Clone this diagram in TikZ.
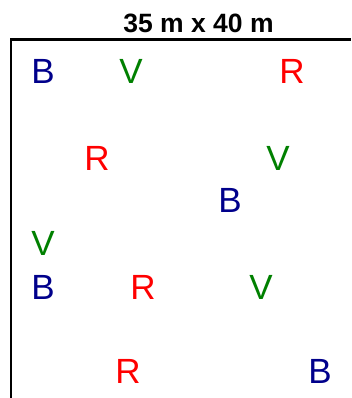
\documentclass[tikz,border=0pt]{standalone}
\usepackage{fontspec}
\setmainfont{Liberation Sans}
\usepackage{tikz}
\usetikzlibrary{positioning}
\definecolor{plotblue}{RGB}{0,0,139}
\definecolor{plotgreen}{RGB}{0,128,0}
\definecolor{plotred}{RGB}{255,0,0}
\tikzset{
  plant/.style={inner sep=0pt,font=\fontsize{35}{35}\selectfont},
  bplant/.style={plant,text=plotblue},
  vplant/.style={plant,text=plotgreen},
  rplant/.style={plant,text=plotred},
  frame/.style={line width=2.2pt,black}
}

\begin{document}
\begin{tikzpicture}[x=1pt,y=-1pt]
  \useasboundingbox (0,0) rectangle (351,398);
  % title + plot border
  \node[inner sep=0pt,font=\fontsize{26.5}{26.5}\selectfont\bfseries] (title) at (198.5,23) {35 m x 40 m};
  \coordinate (corner) at (11,39.5);
  \draw[frame] (11,398) -- (corner) -- (351,39.5);
  % row 1
  \node[bplant] (b1) at (43,71)  {B};
  \node[vplant] (v1) at (131,71) {V};
  \node[rplant] (r1) at (292,71) {R};
  % row 2
  \node[rplant] (r2) at (97,158)  {R};
  \node[vplant] (v2) at (278,158) {V};
  \node[bplant] (b2) at (230,200) {B};
  % row 3
  \node[vplant] (v3) at (43,243)  {V};
  \node[bplant] (b3) at (43,287)  {B};
  \node[rplant] (r3) at (143,287) {R};
  \node[vplant] (v4) at (261,287) {V};
  % row 4
  \node[rplant] (r4) at (128,371) {R};
  \node[bplant] (b4) at (320,371) {B};
\end{tikzpicture}
\end{document}
